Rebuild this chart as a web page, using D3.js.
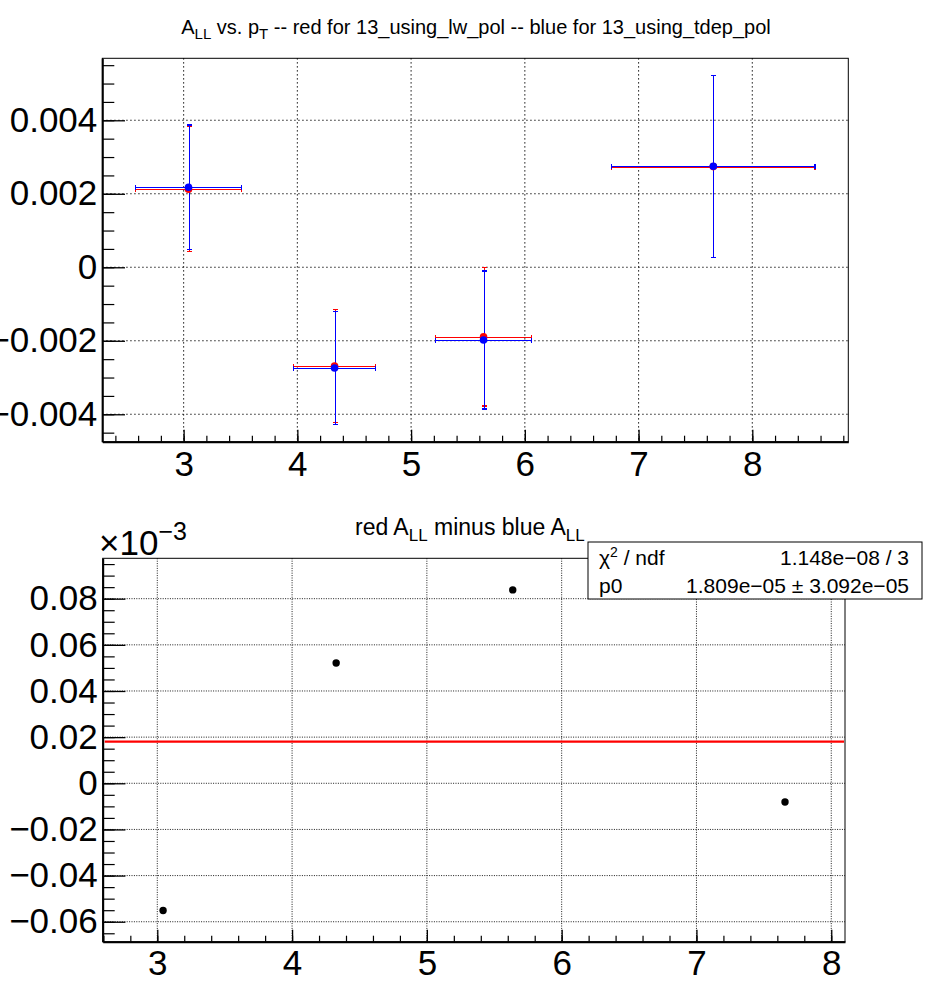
<!DOCTYPE html>
<html>
<head>
<meta charset="utf-8">
<script src="https://cdn.jsdelivr.net/npm/d3@7/dist/d3.min.js"></script>
<style>
  html, body { margin: 0; padding: 0; background: #fff; }
  svg { display: block; }
  text { font-family: "Liberation Sans", Arial, Helvetica, sans-serif; }
</style>
</head>
<body>
<svg id="chart" width="952" height="1000"></svg>
<script>
// ---------------- data ----------------
const xCenters = [3.043, 4.327, 5.637, 7.657];
const xErrors  = [0.465, 0.3585, 0.4235, 0.8945];
const redY     = [0.002122, -0.002688, -0.001894, 0.002740];
const redErr   = [0.001700, 0.001540, 0.001880, 0.002480];
const blueY    = [0.002177, -0.002740, -0.001978, 0.002748];
const blueErr  = [0.001695, 0.001537, 0.001878, 0.002476];
const diffY    = [-0.0551, 0.0521, 0.0838, -0.0081];   // in units of 1e-3
const fitP0    = 0.01809;                                 // in units of 1e-3

const topXTicks = [3, 4, 5, 6, 7, 8];
const topYTicks = [-0.004, -0.002, 0, 0.002, 0.004];
const topYLabels = ["\u22120.004", "\u22120.002", "0", "0.002", "0.004"];
const botXTicks = [3, 4, 5, 6, 7, 8];
const botYTicks = [-0.06, -0.04, -0.02, 0, 0.02, 0.04, 0.06, 0.08];
const botYLabels = ["\u22120.06", "\u22120.04", "\u22120.02", "0", "0.02", "0.04", "0.06", "0.08"];

const statsRows = [["\u03c7", "2", " / ndf", "1.148e\u221208 / 3"], ["p0", "", "", "1.809e\u221205 \u00b1 3.092e\u221205"]];

// ---------------- layout ----------------
const svg = d3.select("#chart");
const FONT = "'Liberation Sans', Arial, Helvetica, sans-serif";

const topP = {x0: 102.3, x1: 848.3, y0: 58.3, y1: 441.7};
const botP = {x0: 102.7, x1: 845.0, y0: 558.3, y1: 941.7};

const xT = d3.scaleLinear().domain([2.285, 8.844]).range([topP.x0, topP.x1]);
const yT = d3.scaleLinear().domain([-0.004746, 0.005687]).range([topP.y1, topP.y0]);
const xB = d3.scaleLinear().domain([2.595, 8.102]).range([botP.x0, botP.x1]);
const yB = d3.scaleLinear().domain([-0.06865, 0.0975]).range([botP.y1, botP.y0]);

function range(a, b, s) { const out = []; for (let v = a; v <= b + 1e-12; v += s) out.push(+v.toFixed(6)); return out; }

function panel(P, xs, ys, xTicks, yTicks, yLabels, xMinor, yMinor, dash, gridW, xPad) {
  const g = svg.append("g");
  g.append("rect").attr("x", P.x0).attr("y", P.y0).attr("width", P.x1 - P.x0).attr("height", P.y1 - P.y0)
    .attr("fill", "none").attr("stroke", "#000").attr("stroke-width", 1);
  g.selectAll(".gx").data(xTicks).join("line")
    .attr("x1", d => xs(d)).attr("x2", d => xs(d)).attr("y1", P.y0).attr("y2", P.y1)
    .attr("stroke", "#000").attr("stroke-width", gridW).attr("stroke-dasharray", dash);
  g.selectAll(".gy").data(yTicks).join("line")
    .attr("x1", P.x0).attr("x2", P.x1).attr("y1", d => ys(d)).attr("y2", d => ys(d))
    .attr("stroke", "#000").attr("stroke-width", gridW).attr("stroke-dasharray", dash);
  const xm = d3.axisBottom(xs).tickValues(xMinor.filter(v => v >= xs.domain()[0] && v <= xs.domain()[1]))
    .tickSize(-6).tickFormat("");
  const ym = d3.axisLeft(ys).tickValues(yMinor.filter(v => v >= ys.domain()[0] && v <= ys.domain()[1]))
    .tickSize(-12).tickFormat("");
  const gxm = g.append("g").attr("transform", `translate(0,${P.y1})`).call(xm);
  const gym = g.append("g").attr("transform", `translate(${P.x0},0)`).call(ym);
  [gxm, gym].forEach(a => { a.select(".domain").remove(); a.selectAll("line").attr("stroke-width", 1.2); });
  const xa = d3.axisBottom(xs).tickValues(xTicks).tickSize(-12).tickPadding(xPad).tickSizeOuter(0)
    .tickFormat(d3.format("d"));
  const ya = d3.axisLeft(ys).tickValues(yTicks).tickSize(-22.7).tickPadding(5).tickSizeOuter(0)
    .tickFormat((d, i) => yLabels[i]);
  const gx = g.append("g").attr("transform", `translate(0,${P.y1})`).call(xa);
  const gy = g.append("g").attr("transform", `translate(${P.x0},0)`).call(ya);
  [gx, gy].forEach(a => {
    a.attr("font-family", FONT).attr("font-size", 35);
    a.select(".domain").attr("stroke-width", 2);
    a.selectAll(".tick line").attr("stroke-width", 1.3);
    a.selectAll("text").attr("fill", "#000");
  });
  return g;
}

// ---------------- top panel ----------------
panel(topP, xT, yT, topXTicks, topYTicks, topYLabels,
      range(2.4, 8.8, 0.2), range(-0.0045, 0.0055, 0.0005), "1.3,2.7", 1.1, 9.5);

function errorGraph(yv, ye, color) {
  const g = svg.append("g").attr("stroke", color).attr("stroke-width", 1.2).attr("fill", color);
  const lines = svg.append("g").attr("stroke", color).attr("stroke-width", 1.2)
    .attr("shape-rendering", "crispEdges");
  const cap = 2.6;
  xCenters.forEach((x, i) => {
    const cx = Math.round(xT(x)) + 0.5, cy = Math.round(yT(yv[i])) + 0.5;
    const xl = xT(x - xErrors[i]), xr = xT(x + xErrors[i]);
    const yt = yT(yv[i] + ye[i]), yb = yT(yv[i] - ye[i]);
    lines.append("line").attr("x1", xl).attr("x2", xr).attr("y1", cy).attr("y2", cy);
    lines.append("line").attr("x1", cx).attr("x2", cx).attr("y1", yt).attr("y2", yb);
    lines.append("line").attr("x1", xl).attr("x2", xl).attr("y1", cy - cap).attr("y2", cy + cap);
    lines.append("line").attr("x1", xr).attr("x2", xr).attr("y1", cy - cap).attr("y2", cy + cap);
    lines.append("line").attr("x1", cx - cap).attr("x2", cx + cap).attr("y1", yt).attr("y2", yt);
    lines.append("line").attr("x1", cx - cap).attr("x2", cx + cap).attr("y1", yb).attr("y2", yb);
  });
  return {marks: g, yv};
}
const redG = errorGraph(redY, redErr, "#ff0000");
const blueG = errorGraph(blueY, blueErr, "#0000ff");
[redG, blueG].forEach(G => {
  G.marks.raise();
  xCenters.forEach((x, i) => {
    G.marks.append("circle").attr("cx", xT(x)).attr("cy", yT(G.yv[i])).attr("r", 3.8).attr("stroke", "none");
  });
});

// top title
const tt = svg.append("text").attr("x", 476).attr("y", 34).attr("text-anchor", "middle")
  .attr("font-size", 20).attr("fill", "#000");
tt.append("tspan").text("A");
tt.append("tspan").attr("font-size", 15).attr("dy", 5).text("LL");
tt.append("tspan").attr("dy", -5).text(" vs. p");
tt.append("tspan").attr("font-size", 15).attr("dy", 5).text("T");
tt.append("tspan").attr("dy", -5).text(" -- red for 13_using_lw_pol -- blue for 13_using_tdep_pol");

// ---------------- bottom panel ----------------
panel(botP, xB, yB, botXTicks, botYTicks, botYLabels,
      range(2.6, 8.0, 0.2), range(-0.065, 0.095, 0.005), "1,1.4", 0.9, 8.5);

svg.append("line").attr("x1", xB(xB.domain()[0]) + 2).attr("x2", xB(xB.domain()[1]) - 1)
  .attr("y1", yB(fitP0)).attr("y2", yB(fitP0)).attr("stroke", "#ff0000").attr("stroke-width", 2.2);

svg.append("g").selectAll("circle").data(xCenters).join("circle")
  .attr("cx", d => xB(d)).attr("cy", (d, i) => yB(diffY[i])).attr("r", 3.7).attr("fill", "#000");

const ex = svg.append("text").attr("x", 99).attr("y", 555).attr("font-size", 35).attr("fill", "#000");
ex.append("tspan").text("\u00d710");
ex.append("tspan").attr("font-size", 25).attr("dy", -15).text("\u22123");

const bt = svg.append("text").attr("x", 355).attr("y", 535).attr("font-size", 23).attr("fill", "#000");
bt.append("tspan").text("red A");
bt.append("tspan").attr("font-size", 17).attr("dy", 6).text("LL");
bt.append("tspan").attr("dy", -6).text(" minus blue A");
bt.append("tspan").attr("font-size", 17).attr("dy", 6).text("LL");

const sb = {x0: 588, x1: 922, y0: 542, y1: 599};
svg.append("rect").attr("x", sb.x0).attr("y", sb.y0).attr("width", sb.x1 - sb.x0).attr("height", sb.y1 - sb.y0)
  .attr("fill", "#fff").attr("stroke", "#000").attr("stroke-width", 1);
statsRows.forEach((r, i) => {
  const y = 565 + i * 28;
  const l = svg.append("text").attr("x", 599).attr("y", y).attr("font-size", 21).attr("fill", "#000");
  l.append("tspan").text(r[0]);
  if (r[1]) l.append("tspan").attr("font-size", 14).attr("dy", -8).text(r[1]);
  if (r[2]) l.append("tspan").attr("dy", 8).text(r[2]);
  svg.append("text").attr("x", 909).attr("y", y).attr("text-anchor", "end").attr("font-size", 21)
    .attr("fill", "#000").text(r[3]);
});
</script>
</body>
</html>
